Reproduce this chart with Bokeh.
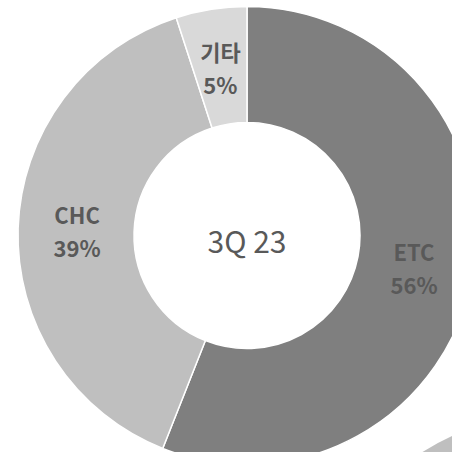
import numpy as np
from bokeh.plotting import figure
from bokeh.models import Range1d, ColumnDataSource
from bokeh.core.properties import value
from bokeh.embed import file_html
from bokeh.resources import INLINE

# ---- data ----
categories = ["ETC", "CHC", "기타"]
shares = [56, 39, 5]
pct_labels = ["56%", "39%", "5%"]
colors = ["#7f7f7f", "#bfbfbf", "#d9d9d9"]
center_label = "3Q 23"

# neighbouring chart (only a sliver visible in the bottom-right corner)
next_chart_color = "#bfbfbf"

FONT = "Noto Sans CJK KR"
TEXT_COLOR = "#595959"
R_OUT = 229
R_IN = 113
R_LABEL = 170

p = figure(width=452, height=452, output_backend="svg", toolbar_location=None,
           x_range=Range1d(-246.5, 205.5), y_range=Range1d(-217, 235),
           min_border=0)
p.axis.visible = False
p.grid.visible = False
p.outline_line_color = None
p.background_fill_color = "white"

vals = np.array(shares, dtype=float)
frac = vals / vals.sum()
cum_end = np.cumsum(frac)
cum_start = cum_end - frac
start_ang = np.deg2rad(90 - cum_end * 360)
end_ang = np.deg2rad(90 - cum_start * 360)
mid = (start_ang + end_ang) / 2

src = ColumnDataSource(dict(cat=categories, start=start_ang, end=end_ang, color=colors,
                            lx=R_LABEL * np.cos(mid), ly=R_LABEL * np.sin(mid),
                            pct=pct_labels))

# neighbour donut sliver
p.annular_wedge(x=[299.5], y=[-409], inner_radius=R_IN, outer_radius=R_OUT,
                start_angle=0, end_angle=2 * np.pi, color=next_chart_color, line_color=None)

p.annular_wedge(x=0, y=0, inner_radius=R_IN, outer_radius=R_OUT,
                start_angle="start", end_angle="end", fill_color="color",
                line_color="white", line_width=1.5, source=src)

name_src = ColumnDataSource(dict(x=src.data["lx"], y=src.data["ly"] + 16.5, t=categories))
pct_src = ColumnDataSource(dict(x=src.data["lx"], y=src.data["ly"] - 16.5, t=pct_labels))
for s in (name_src, pct_src):
    p.text(x="x", y="y", text="t", source=s, text_font=value(FONT), text_font_style="bold",
           text_font_size="22px", text_color=TEXT_COLOR, text_align="center",
           text_baseline="middle")

p.text(x=[0], y=[-4], text=[center_label], text_font=value(FONT), text_font_size="30px",
       text_color=TEXT_COLOR, text_align="center", text_baseline="middle")

open("out.html", "w").write(file_html(p, INLINE))
